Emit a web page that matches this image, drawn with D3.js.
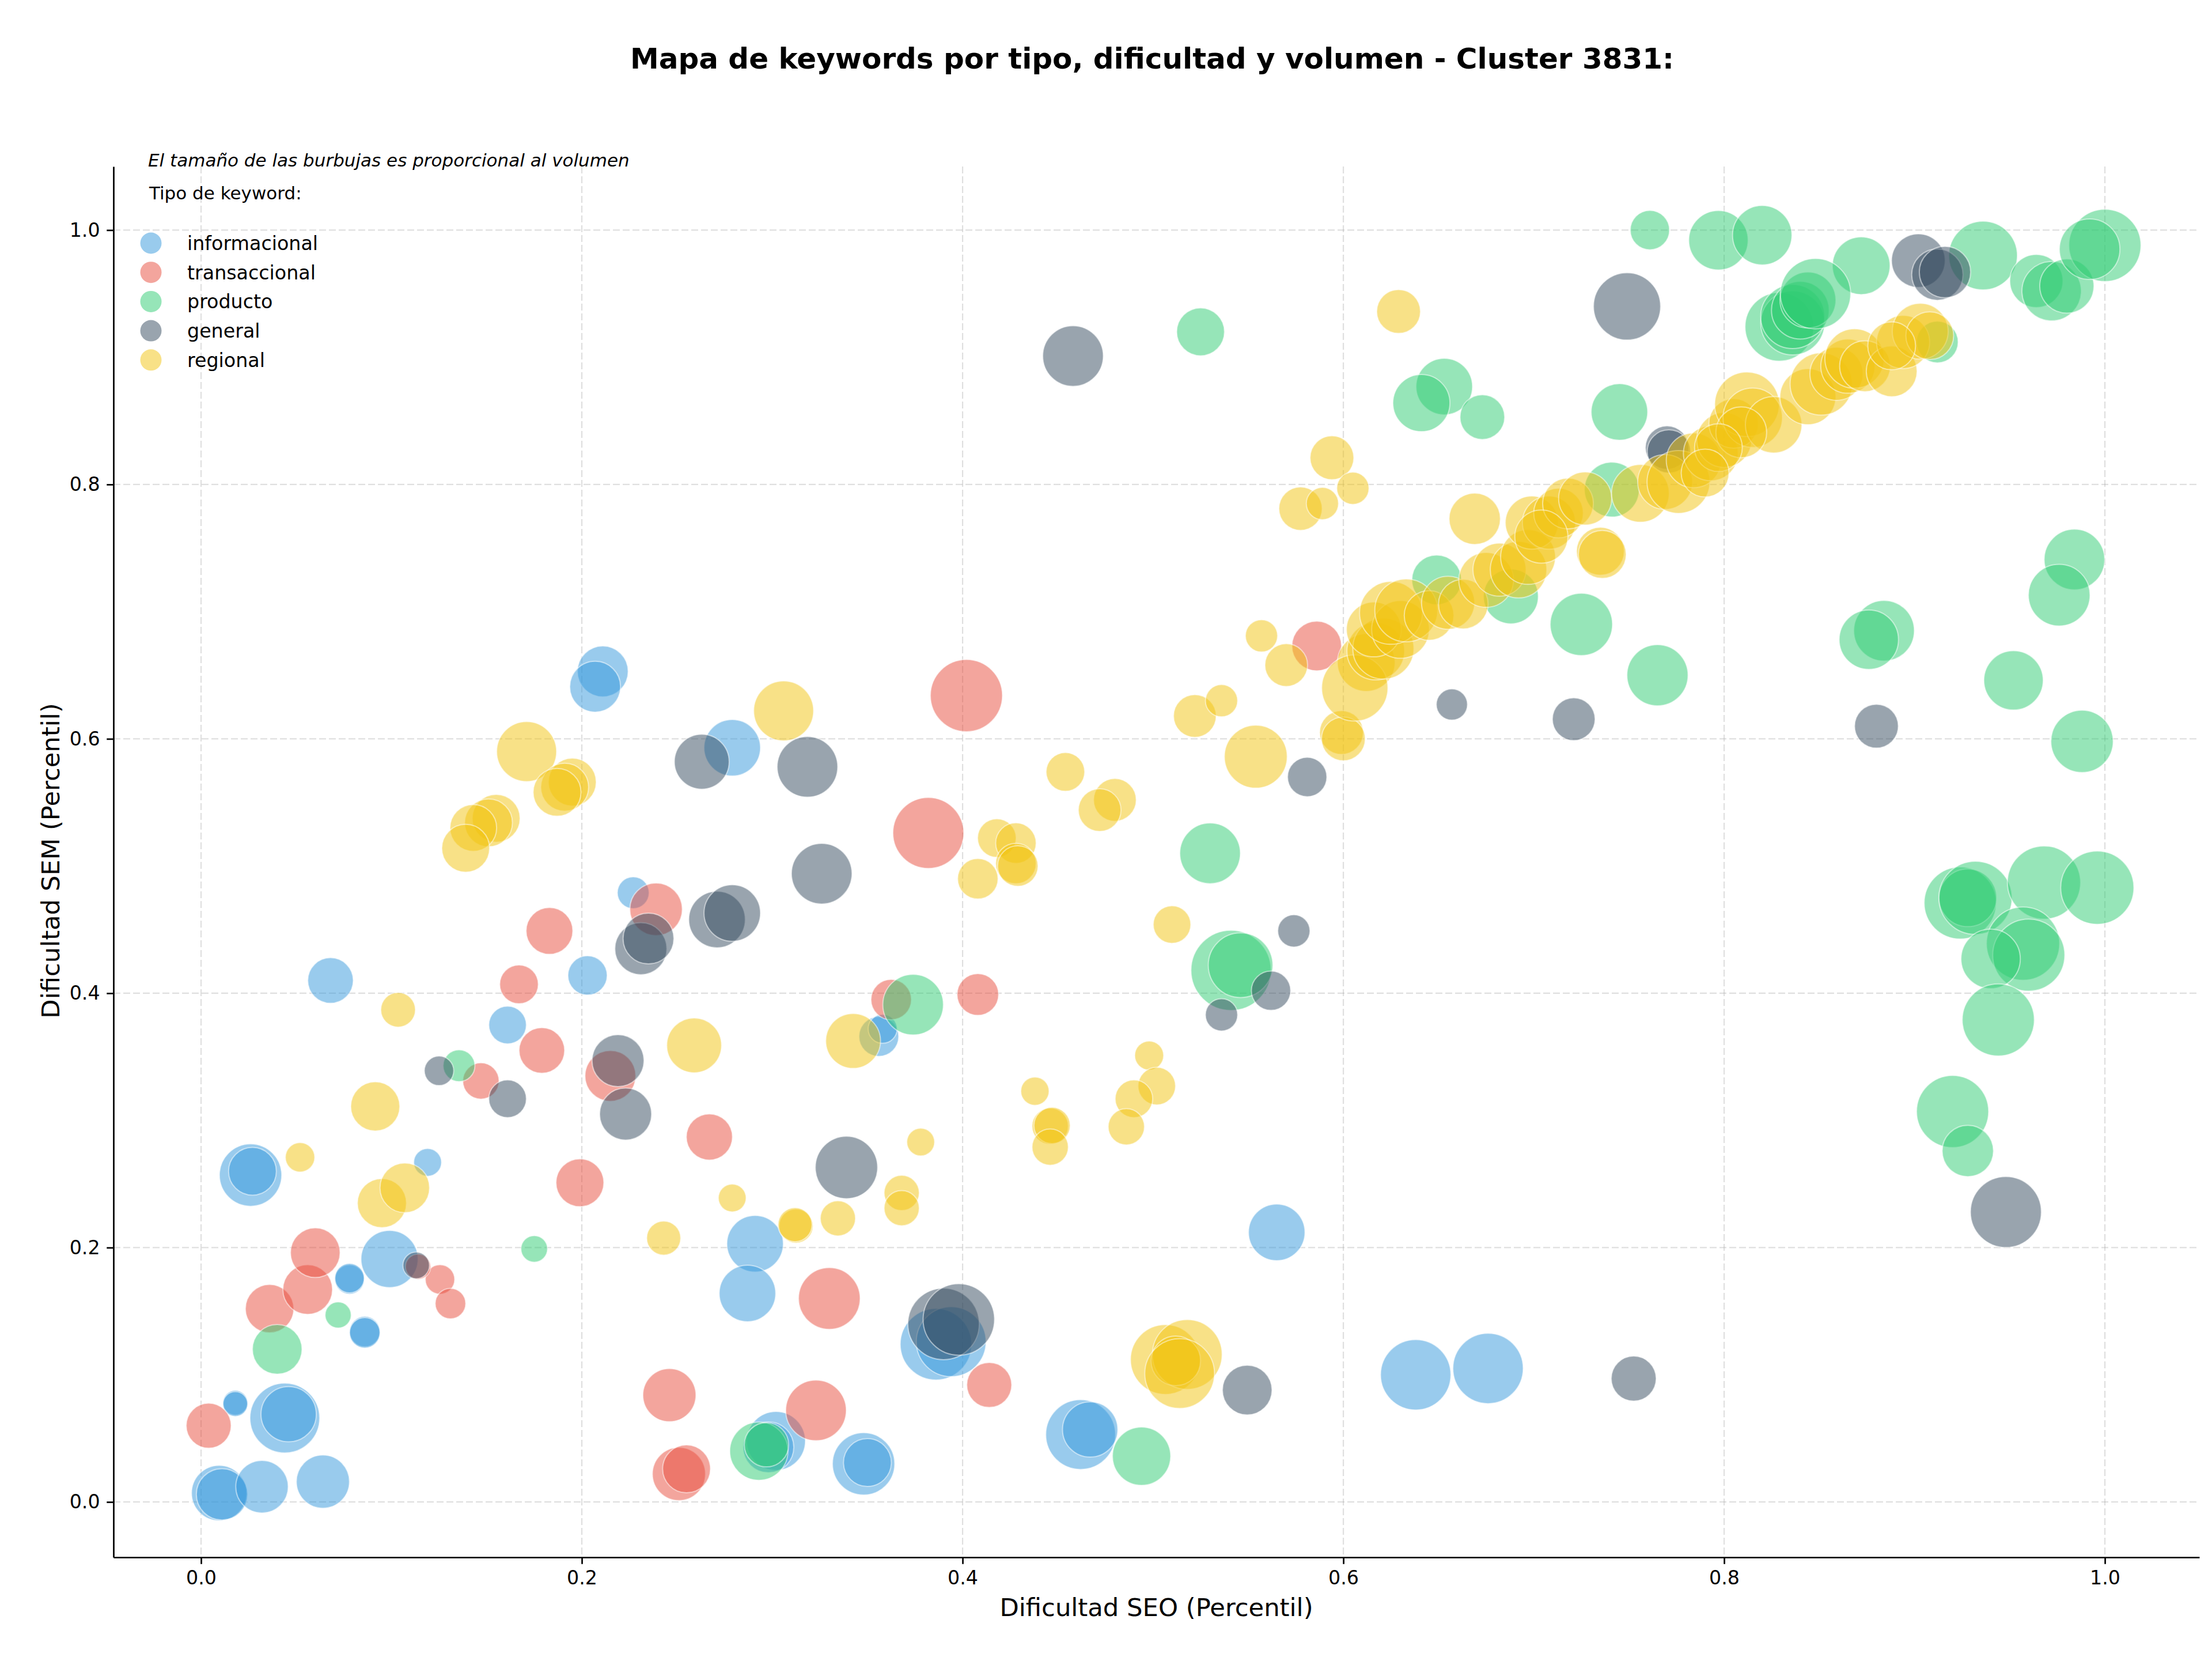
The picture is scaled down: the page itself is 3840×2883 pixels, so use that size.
<!DOCTYPE html>
<html><head><meta charset="utf-8">
<script src="https://cdn.jsdelivr.net/npm/d3@7"></script>
<style>
body{margin:0;background:#fff}
svg{display:block}
text{font-family:"DejaVu Sans",sans-serif;fill:#000}
</style>
</head><body>
<svg id="chart" width="3840" height="2883"></svg>
<script>
// ---- data: [dificultad SEO, dificultad SEM, volumen] ----
const categories = ["informacional","transaccional","producto","general","regional"];
const colors = ["#3498db","#e74c3c","#2ecc71","#34495e","#f1c40f"];
const xTicks = [0.0,0.2,0.4,0.6,0.8,1.0];
const yTicks = [0.0,0.2,0.4,0.6,0.8,1.0];

const informacional = [
[0.0095,0.007,2300],[0.011,0.006,1980],[0.032,0.012,2070],[0.064,0.016,2120],
[0.044,0.066,3660],[0.046,0.069,2300],[0.018,0.078,460],[0.018,0.077,460],
[0.026,0.257,2920],[0.027,0.260,1720],[0.078,0.175,650],[0.078,0.176,650],
[0.099,0.191,2450],[0.086,0.134,700],[0.086,0.133,700],[0.119,0.267,580],
[0.068,0.410,1560],[0.211,0.653,1940],[0.207,0.641,1940],[0.279,0.593,2400],
[0.227,0.479,760],[0.203,0.414,1160],[0.161,0.375,1060],[0.356,0.366,1190],
[0.358,0.372,630],[0.291,0.203,2400],[0.287,0.164,2400],[0.302,0.048,2600],
[0.298,0.043,1940],[0.348,0.030,2920],[0.350,0.031,1720],[0.386,0.124,3840],
[0.394,0.126,3660],[0.462,0.053,3660],[0.467,0.057,2300],[0.565,0.212,2400],
[0.638,0.100,3720],[0.676,0.105,3720]
];
const transaccional = [
[0.004,0.060,1520],[0.036,0.152,1760],[0.056,0.167,1850],[0.060,0.196,1850],
[0.1255,0.175,650],[0.131,0.156,700],[0.114,0.185,480],[0.199,0.251,1720],
[0.246,0.084,2120],[0.251,0.022,2120],[0.255,0.026,1720],[0.267,0.287,1600],
[0.323,0.072,2760],[0.330,0.160,2860],[0.414,0.092,1520],[0.183,0.449,1640],
[0.167,0.407,1120],[0.179,0.355,1560],[0.147,0.331,990],[0.215,0.335,1940],
[0.239,0.466,2070],[0.402,0.634,3910],[0.382,0.526,3780],[0.408,0.399,1300],
[0.3625,0.395,1230],[0.586,0.673,1850]
];
const producto = [
[0.040,0.120,1850],[0.072,0.147,510],[0.175,0.199,530],[0.1355,0.343,760],
[0.293,0.040,2550],[0.297,0.045,1480],[0.494,0.036,2550],[0.374,0.391,2760],
[0.530,0.510,2760],[0.541,0.418,4830],[0.546,0.422,3140],[0.525,0.920,1720],
[0.761,1.000,1160],[0.797,0.992,2650],[0.820,0.996,2650],[0.653,0.877,2400],
[0.641,0.864,2450],[0.673,0.853,1500],[0.745,0.857,2400],[0.725,0.690,2920],
[0.765,0.650,2810],[0.741,0.796,2260],[0.649,0.725,1850],[0.688,0.712,2260],
[0.872,0.972,2500],[0.936,0.980,3540],[0.964,0.960,2120],[0.972,0.952,2650],
[0.980,0.956,2210],[1.000,0.988,3910],[0.992,0.985,2760],[0.829,0.924,3540],
[0.836,0.927,3080],[0.836,0.932,3080],[0.840,0.937,2500],[0.844,0.945,2350],
[0.848,0.950,3720],[0.912,0.912,1300],[0.984,0.741,2760],[0.976,0.713,2860],
[0.884,0.685,2760],[0.876,0.678,2650],[0.952,0.646,2650],[0.988,0.598,2920],
[0.924,0.471,3910],[0.928,0.475,2500],[0.932,0.475,4030],[0.968,0.487,4030],
[0.996,0.483,4030],[0.957,0.439,4030],[0.960,0.430,3910],[0.940,0.427,2650],
[0.944,0.379,3910],[0.920,0.307,3910],[0.928,0.276,1980]
];
const general = [
[0.113,0.186,530],[0.125,0.339,650],[0.161,0.317,1060],[0.219,0.347,2030],
[0.223,0.305,2030],[0.231,0.435,2030],[0.235,0.443,1940],[0.263,0.582,2260],
[0.271,0.458,2400],[0.279,0.463,2400],[0.3185,0.578,2760],[0.326,0.494,2760],
[0.581,0.570,1160],[0.574,0.449,780],[0.562,0.402,1160],[0.536,0.383,780],
[0.339,0.263,2920],[0.390,0.140,3840],[0.398,0.1435,3840],[0.5495,0.088,1850],
[0.7525,0.097,1520],[0.458,0.901,2760],[0.657,0.627,730],[0.721,0.6155,1370],
[0.749,0.940,3390],[0.770,0.829,1410],[0.771,0.826,1410],[0.902,0.976,2160],
[0.912,0.965,1980],[0.916,0.967,1980],[0.880,0.610,1440],[0.948,0.228,3780]
];
const regional = [
[0.0915,0.311,1810],[0.052,0.271,650],[0.095,0.235,1810],[0.107,0.247,1850],
[0.243,0.2075,870],[0.1035,0.387,900],[0.259,0.359,2260],[0.171,0.590,2700],
[0.195,0.566,1720],[0.191,0.562,1720],[0.187,0.558,1720],[0.155,0.5375,1720],
[0.151,0.534,1720],[0.143,0.530,1640],[0.139,0.514,1720],[0.306,0.622,2700],
[0.3425,0.3625,2260],[0.418,0.522,1120],[0.428,0.518,1230],[0.428,0.502,1230],
[0.429,0.500,1230],[0.408,0.490,1230],[0.454,0.574,1120],[0.480,0.552,1370],
[0.472,0.544,1370],[0.522,0.618,1370],[0.536,0.630,780],[0.557,0.681,780],
[0.570,0.658,1370],[0.554,0.586,2970],[0.599,0.605,1440],[0.600,0.600,1440],
[0.510,0.454,1060],[0.498,0.351,630],[0.502,0.327,1060],[0.490,0.317,1060],
[0.486,0.295,990],[0.438,0.323,600],[0.446,0.2955,990],[0.447,0.296,990],
[0.446,0.279,990],[0.378,0.283,580],[0.368,0.243,930],[0.368,0.231,930],
[0.3345,0.223,930],[0.3125,0.217,870],[0.312,0.218,870],[0.279,0.239,580],
[0.5065,0.112,3660],[0.518,0.116,3660],[0.512,0.111,1850],[0.514,0.101,3660],
[0.629,0.936,1440],[0.594,0.821,1440],[0.5775,0.781,1410],[0.589,0.785,780],
[0.605,0.797,780],[0.669,0.773,1980],[0.735,0.7475,1720],[0.736,0.745,1720],
[0.612,0.660,2500],[0.606,0.640,3300],[0.617,0.669,2500],[0.621,0.671,2810],
[0.616,0.686,2260],[0.630,0.686,2500],[0.625,0.699,2970],[0.633,0.701,2970],
[0.645,0.697,1850],[0.655,0.707,2120],[0.663,0.706,1850],[0.675,0.725,2260],
[0.682,0.733,2120],[0.692,0.733,2400],[0.697,0.743,2260],[0.699,0.770,2120],
[0.708,0.770,2120],[0.713,0.7775,1850],[0.718,0.785,1940],[0.704,0.759,2120],
[0.727,0.789,2120],[0.756,0.793,2500],[0.769,0.802,2260],[0.776,0.802,2970],
[0.784,0.819,2260],[0.793,0.8245,2260],[0.800,0.835,2260],[0.805,0.848,1850],
[0.812,0.863,3140],[0.815,0.8525,2650],[0.826,0.847,2400],[0.809,0.841,1940],
[0.797,0.829,1720],[0.790,0.809,1720],[0.844,0.869,2350],[0.851,0.879,2920],
[0.859,0.887,2120],[0.865,0.893,2210],[0.8685,0.899,2650],[0.874,0.893,1940],
[0.888,0.889,1940],[0.894,0.912,2120],[0.903,0.9205,2350],[0.908,0.917,1720],
[0.888,0.909,1720]
];
const series = [informacional, transaccional, producto, general, regional];

const titleText = "Mapa de keywords por tipo, dificultad y volumen - Cluster 3831:";
const noteText = "El tamaño de las burbujas es proporcional al volumen";
const legendTitle = "Tipo de keyword:";
const xLabel = "Dificultad SEO (Percentil)";
const yLabel = "Dificultad SEM (Percentil)";

// ---- layout ----
const svg = d3.select("#chart");
const L = 197, R = 3818, T = 289, B = 2703;
const x = d3.scaleLinear().domain([-0.046, 1.0496]).range([L, R]);
const y = d3.scaleLinear().domain([-0.0435, 1.050]).range([B, T]);
const r = d3.scaleSqrt().domain([0, 5000]).range([0, Math.sqrt(5000)]);

// grid
const grid = svg.append("g");
grid.selectAll("line.gx").data(xTicks).join("line")
  .attr("x1", d => x(d)).attr("x2", d => x(d)).attr("y1", T).attr("y2", B)
  .attr("stroke", "#b0b0b0").attr("stroke-opacity", 0.4).attr("stroke-width", 2.2)
  .attr("stroke-dasharray", "12,5");
grid.selectAll("line.gy").data(yTicks).join("line")
  .attr("y1", d => y(d)).attr("y2", d => y(d)).attr("x1", L).attr("x2", R)
  .attr("stroke", "#b0b0b0").attr("stroke-opacity", 0.4).attr("stroke-width", 2.2)
  .attr("stroke-dasharray", "12,5");

// bubbles
series.forEach((data, i) => {
  svg.append("g").selectAll("circle").data(data).join("circle")
    .attr("cx", d => x(d[0])).attr("cy", d => y(d[1])).attr("r", d => r(d[2]))
    .attr("fill", colors[i]).attr("fill-opacity", 0.5)
    .attr("stroke", "#ffffff").attr("stroke-opacity", 0.5).attr("stroke-width", 2);
});

// axes
const fmt = d3.format(".1f");
const xAxis = svg.append("g").attr("transform", `translate(0,${B})`)
  .call(d3.axisBottom(x).tickValues(xTicks).tickFormat(fmt).tickSize(11.7).tickPadding(11.7).tickSizeOuter(0));
const yAxis = svg.append("g").attr("transform", `translate(${L},0)`)
  .call(d3.axisLeft(y).tickValues(yTicks).tickFormat(fmt).tickSize(11.7).tickPadding(11.7).tickSizeOuter(0));
[xAxis, yAxis].forEach(a => {
  a.select(".domain").attr("stroke", "#000").attr("stroke-width", 2.7);
  a.selectAll(".tick line").attr("stroke", "#000").attr("stroke-width", 2.7);
  a.selectAll(".tick text").attr("font-family", "DejaVu Sans").attr("font-size", 33.3).attr("fill", "#000");
});

// labels
svg.append("text").attr("x", 2000).attr("y", 119).attr("text-anchor", "middle")
  .attr("font-size", 50).attr("font-weight", "bold").text(titleText);
svg.append("text").attr("x", (L + R) / 2).attr("y", 2805).attr("text-anchor", "middle")
  .attr("font-size", 43.3).text(xLabel);
svg.append("text").attr("transform", "translate(103,1494) rotate(-90)").attr("text-anchor", "middle")
  .attr("font-size", 43.3).text(yLabel);
svg.append("text").attr("x", 257).attr("y", 289).attr("font-size", 31)
  .attr("font-style", "italic").text(noteText);
svg.append("text").attr("x", 259).attr("y", 346).attr("font-size", 31).text(legendTitle);

// legend
const leg = svg.append("g");
categories.forEach((c, i) => {
  const cy = 422 + i * 50.7;
  leg.append("circle").attr("cx", 262).attr("cy", cy).attr("r", 18.5)
    .attr("fill", colors[i]).attr("fill-opacity", 0.5);
  leg.append("text").attr("x", 325).attr("y", cy + 12).attr("font-size", 33.3).text(c);
});
</script>
</body></html>
